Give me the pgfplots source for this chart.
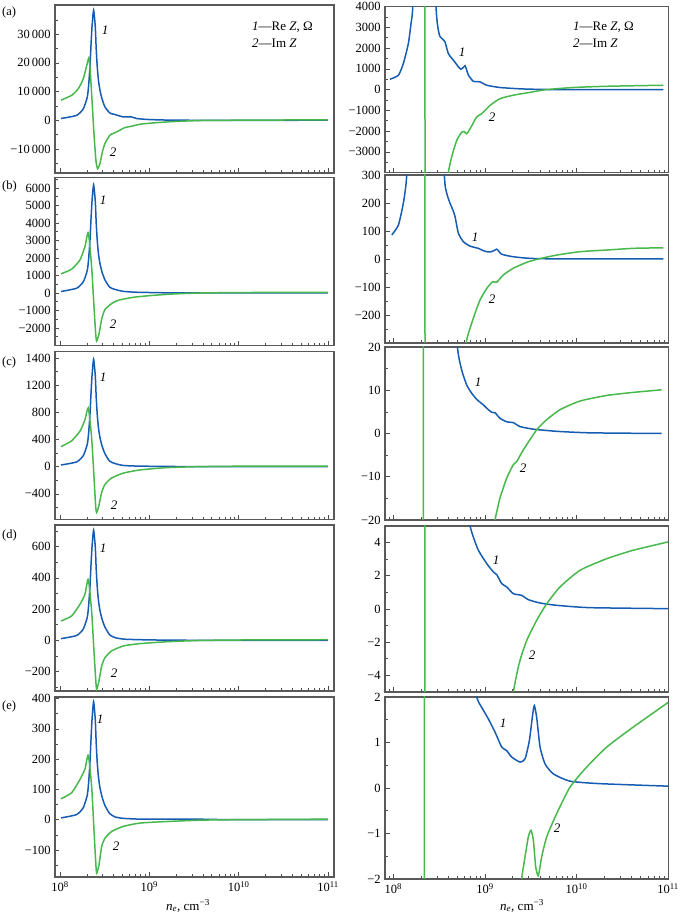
\documentclass[border=0pt]{standalone}
\usepackage{fontspec}
\setmainfont{Liberation Serif}
\usepackage{pgfplots}
\pgfplotsset{compat=1.18}
\definecolor{zblue}{RGB}{22,92,178}
\definecolor{zgreen}{RGB}{72,184,76}
\pgfplotsset{
  zpanel/.style={scale only axis, anchor=south west,
    axis line style={black!65, line width=1.1pt},
    tick style={black!70, line width=0.6pt},
    tick align=inside, xtick pos=left, ytick pos=left,
    major tick length=4.5pt, minor tick length=2.8pt,
    xtick={1e8,1e9,1e10,1e11},
    scaled y ticks=false,
    tick label style={font=\fontsize{12.5}{13}\selectfont},
    xticklabels={},
    every axis plot/.append style={line width=1.5pt, no markers, smooth, tension=0.35},
  },
  zleft/.style={zpanel, xmin=8.79e7, xmax=1.167e11, width=279pt,
    minor xtick={2e8,3e8,4e8,5e8,6e8,7e8,8e8,9e8,2e9,3e9,4e9,5e9,6e9,7e9,8e9,9e9,2e10,3e10,4e10,5e10,6e10,7e10,8e10,9e10}},
  zright/.style={zpanel, xmin=8.11e7, xmax=1.01e11, width=283.5pt,
    minor xtick={9e7,2e8,3e8,4e8,5e8,6e8,7e8,8e8,9e8,2e9,3e9,4e9,5e9,6e9,7e9,8e9,9e9,2e10,3e10,4e10,5e10,6e10,7e10,8e10,9e10}},
  zbottom/.style={xticklabels={10\textsuperscript{8},10\textsuperscript{9},10\textsuperscript{10},10\textsuperscript{11}}},
}
\begin{document}
\fontsize{12.5}{14}\selectfont
\begin{tikzpicture}
\useasboundingbox (0pt,0pt) rectangle (685pt,918pt);
% ---------------- (a) left
\begin{axis}[xmode=log, zleft, at={(55pt,745pt)}, height=168pt, ymin=-18400, ymax=40200,
  ytick={-10000,0,10000,20000,30000}, yticklabels={−10\,000,0,10\,000,20\,000,30\,000},
  minor ytick={-15000,-5000,5000,15000,25000,35000}]
\addplot[zblue] coordinates {(1.026e8,600) (1.535e8,1700) (1.824e8,4000) (2.018e8,8000) (2.089e8,12000) (2.163e8,18600) (2.213e8,25000) (2.280e8,32500) (2.377e8,38400) (2.483e8,32500) (2.541e8,25000) (2.612e8,18600) (2.692e8,14000) (2.799e8,10500) (2.951e8,7500) (3.184e8,4650) (3.622e8,2500) (4.121e8,2000) (5.105e8,1160) (6.324e8,1160) (7.194e8,600) (1.014e9,230) (2.388e9,0) (9.954e10,0)};
\addplot[zgreen] coordinates {(1.026e8,7000) (1.352e8,8700) (1.603e8,11000) (1.824e8,14500) (2.018e8,19800) (2.128e8,21500) (2.259e8,9300) (2.399e8,-4650) (2.523e8,-14000) (2.636e8,-16900) (2.799e8,-15100) (2.985e8,-11000) (3.184e8,-8100) (3.622e8,-5200) (4.295e8,-4100) (5.321e8,-2560) (6.324e8,-2100) (7.834e8,-1400) (1.104e9,-930) (1.845e9,-470) (3.664e9,-100) (8.650e9,0) (9.954e10,150)};
\end{axis}
% ---------------- (a) right
\begin{axis}[xmode=log, zright, at={(385pt,745.4pt)}, height=166pt, ymin=-4000, ymax=4000,
  restrict y to domain*=-44000:44000,
  ytick={-3000,-2000,-1000,0,1000,2000,3000,4000}, yticklabels={−3000,−2000,−1000,0,1000,2000,3000,4000},
  minor ytick={-3500,-2500,-1500,-500,500,1500,2500,3500}]
\addplot[zblue] coordinates {(9.204e7,500) (1.135e8,690) (1.285e8,1250) (1.459e8,2220) (1.560e8,3190) (1.629e8,4000) (1.778e8,9000) (1.995e8,25000) (2.188e8,38000) (2.399e8,25000) (2.630e8,10000) (2.924e8,4000) (3.097e8,2870) (3.236e8,2550) (3.373e8,2470) (3.664e8,2300) (3.981e8,1740) (4.519e8,1420) (5.129e8,1100) (5.445e8,985) (5.754e8,1050) (6.067e8,1150) (6.310e8,950) (6.592e8,700) (7.464e8,400) (8.851e8,370) (1.047e9,210) (1.462e9,100) (2.624e9,30) (6.081e9,0) (8.872e10,0)};
\addplot[zgreen] coordinates {(9.204e7,7000) (1.995e8,20000) (2.188e8,21000) (2.249e8,-17000) (2.630e8,-17000) (3.162e8,-8000) (3.548e8,-5500) (3.981e8,-4000) (4.335e8,-3240) (4.920e8,-2450) (5.572e8,-2050) (5.916e8,-2020) (6.324e8,-2130) (6.871e8,-1890) (8.128e8,-1320) (9.226e8,-1160) (1.138e9,-760) (1.462e9,-435) (2.042e9,-270) (2.858e9,-160) (4.732e9,0) (9.226e9,100) (2.138e10,160) (8.872e10,210)};
\end{axis}
% ---------------- (b) left
\begin{axis}[xmode=log, zleft, at={(55pt,572.5pt)}, height=168pt, ymin=-3000, ymax=6600,
  ytick={-2000,-1000,0,1000,2000,3000,4000,5000,6000}, yticklabels={−2000,−1000,0,1000,2000,3000,4000,5000,6000},
  minor ytick={-2500,-1500,-500,500,1500,2500,3500,4500,5500,6500}]
\addplot[zblue] coordinates {(1.026e8,86) (1.535e8,272) (1.824e8,643) (2.018e8,1286) (2.089e8,1916) (2.163e8,2992) (2.213e8,4018) (2.280e8,5230) (2.377e8,6182) (2.483e8,5230) (2.541e8,4018) (2.612e8,2992) (2.692e8,2256) (2.799e8,1688) (2.951e8,1205) (3.184e8,748) (3.606e8,330) (4.159e8,199) (5.129e8,92) (6.871e8,46) (1.047e9,26) (2.042e9,8) (9.954e10,0)};
\addplot[zgreen] coordinates {(1.026e8,1096) (1.349e8,1361) (1.673e8,1890) (1.901e8,2646) (2.073e8,3460) (2.258e8,1512) (2.399e8,-756) (2.503e8,-2268) (2.569e8,-2741) (2.728e8,-2363) (2.922e8,-1512) (3.184e8,-945) (3.779e8,-605) (4.485e8,-416) (6.597e8,-246) (1.013e9,-151) (1.846e9,-57) (3.666e9,0) (1.091e10,26) (9.954e10,40)};
\end{axis}
% ---------------- (b) right
\begin{axis}[xmode=log, zright, at={(385pt,575pt)}, height=168pt, ymin=-300, ymax=300,
  restrict y to domain*=-3300:3300,
  ytick={-200,-100,0,100,200,300}, yticklabels={−200,−100,0,100,200,300},
  minor ytick={-250,-150,-50,50,150,250}]
\addplot[zblue] coordinates {(9.616e7,86) (1.135e8,121) (1.285e8,199) (1.400e8,300) (1.585e8,700) (1.995e8,3500) (2.188e8,6200) (2.512e8,3500) (3.162e8,800) (3.606e8,300) (3.828e8,235) (4.159e8,199) (4.467e8,175) (4.721e8,151) (5.129e8,92) (5.808e8,62) (6.871e8,46) (8.472e8,38) (9.550e8,30) (1.047e9,26) (1.148e9,25) (1.259e9,30) (1.346e9,35) (1.413e9,28) (1.524e9,17) (2.042e9,8) (3.999e9,1) (8.872e10,0)};
\addplot[zgreen] coordinates {(9.616e7,1128) (1.995e8,3300) (2.188e8,3460) (2.249e8,-2720) (2.630e8,-2720) (3.548e8,-900) (5.012e8,-500) (6.223e8,-300) (6.871e8,-248) (7.798e8,-194) (8.851e8,-146) (1.047e9,-105) (1.216e9,-81) (1.346e9,-83) (1.589e9,-57) (2.042e9,-33) (2.858e9,-12) (3.828e9,0) (6.081e9,14) (1.091e10,26) (2.138e10,32) (4.169e10,38) (8.872e10,40)};
\end{axis}
% ---------------- (c) left
\begin{axis}[xmode=log, zleft, at={(55pt,398.5pt)}, height=168pt, ymin=-778, ymax=1697,
  ytick={-400,0,400,800,1200,1600}, yticklabels={−400,0,400,800,1200,1400},
  minor ytick={-600,-200,200,600,1000,1400}]
\addplot[zblue] coordinates {(1.026e8,25) (1.535e8,70) (1.824e8,164) (2.018e8,329) (2.089e8,490) (2.163e8,765) (2.213e8,1027) (2.280e8,1337) (2.377e8,1580) (2.483e8,1337) (2.541e8,1027) (2.612e8,765) (2.692e8,577) (2.799e8,431) (2.951e8,308) (3.184e8,191) (3.606e8,80) (4.159e8,45) (5.0e8,20) (6.324e8,11) (1.089e9,5.5) (2.042e9,2.5) (4.0e9,0.8) (9.954e10,0)};
\addplot[zgreen] coordinates {(1.026e8,295) (1.349e8,381) (1.673e8,524) (1.901e8,690) (2.073e8,866) (2.258e8,428) (2.399e8,-143) (2.503e8,-571) (2.569e8,-676) (2.728e8,-571) (2.922e8,-381) (3.184e8,-262) (3.779e8,-167) (5.101e8,-95) (7.834e8,-48) (1.555e9,-14) (3.673e9,0.8) (1.091e10,7.5) (9.954e10,10)};
\end{axis}
% ---------------- (c) right
\begin{axis}[xmode=log, zright, at={(385pt,398pt)}, height=173pt, ymin=-20, ymax=20,
  restrict y to domain*=-220:220,
  ytick={-20,-10,0,10,20}, yticklabels={−20,−10,0,10,20},
  minor ytick={-15,-5,5,15}]
\addplot[zblue] coordinates {(9.616e7,25) (1.585e8,150) (2.188e8,1580) (3.162e8,150) (4.169e8,40) (5.000e8,20) (5.572e8,14.7) (6.324e8,11.2) (7.178e8,9.3) (8.128e8,7.9) (9.616e8,6.6) (1.089e9,5.5) (1.189e9,4.9) (1.288e9,4.8) (1.462e9,3.5) (1.730e9,2.7) (2.042e9,2.5) (2.415e9,1.6) (3.373e9,1.0) (6.081e9,0.5) (1.403e10,0.15) (8.511e10,0)};
\addplot[zgreen] coordinates {(9.616e7,286) (1.995e8,850) (2.104e8,876) (2.163e8,-690) (2.630e8,-689) (3.981e8,-200) (7.943e8,-57) (1.122e9,-28) (1.288e9,-20) (1.462e9,-14.9) (1.730e9,-10.3) (2.042e9,-7.2) (2.223e9,-6.5) (2.624e9,-3.8) (3.673e9,0.85) (4.732e9,3.2) (6.607e9,5.5) (1.091e10,7.5) (2.138e10,8.8) (4.169e10,9.5) (8.511e10,10.1)};
\end{axis}
% ---------------- (d) left
\begin{axis}[xmode=log, zleft, at={(55pt,227pt)}, height=166pt, ymin=-324, ymax=738,
  ytick={-200,0,200,400,600}, yticklabels={−200,0,200,400,600},
  minor ytick={-300,-100,100,300,500,700}]
\addplot[zblue] coordinates {(1.026e8,11) (1.535e8,31) (1.824e8,73) (2.018e8,147) (2.089e8,219) (2.163e8,341) (2.213e8,458) (2.280e8,596) (2.377e8,705) (2.483e8,596) (2.541e8,458) (2.612e8,341) (2.692e8,257) (2.799e8,192) (2.951e8,137) (3.184e8,85) (3.606e8,35) (4.159e8,17) (5.129e8,8) (6.871e8,5) (1.047e9,2.7) (2.042e9,0.9) (6.081e9,0.2) (9.954e10,0)};
\addplot[zgreen] coordinates {(1.026e8,124) (1.349e8,156) (1.673e8,231) (1.901e8,295) (2.073e8,391) (2.258e8,188) (2.399e8,-68) (2.503e8,-240) (2.569e8,-314) (2.728e8,-261) (2.922e8,-165) (3.184e8,-111) (3.779e8,-68) (5.101e8,-36) (7.834e8,-21) (1.555e9,-9) (3.673e9,-0.7) (1.091e10,2.3) (9.954e10,4)};
\end{axis}
% ---------------- (d) right
\begin{axis}[xmode=log, zright, at={(385pt,226pt)}, height=166pt, ymin=-5, ymax=5,
  restrict y to domain*=-55:55,
  ytick={-4,-2,0,2,4}, yticklabels={−4,−2,0,2,4},
  minor ytick={-3,-1,1,3}]
\addplot[zblue] coordinates {(9.616e7,11) (2.188e8,705) (3.981e8,20) (5.623e8,7) (6.871e8,5) (7.464e8,4.34) (8.472e8,3.54) (1.047e9,2.73) (1.236e9,2.23) (1.346e9,2.07) (1.524e9,1.53) (1.730e9,1.33) (2.042e9,0.92) (2.518e9,0.82) (2.979e9,0.56) (3.999e9,0.36) (6.081e9,0.22) (1.403e10,0.08) (1e11,0.02)};
\addplot[zgreen] coordinates {(9.616e7,127) (1.995e8,380) (2.188e8,391) (2.249e8,-307) (2.630e8,-307) (5.012e8,-45) (1e9,-15) (2.042e9,-5) (2.415e9,-3.1) (2.858e9,-1.9) (3.673e9,-0.68) (4.732e9,0.32) (6.607e9,1.33) (1.091e10,2.33) (2.138e10,3.03) (4.169e10,3.54) (1e11,4.04)};
\end{axis}
% ---------------- (e) left
\begin{axis}[xmode=log, zleft, zbottom, at={(55pt,41pt)}, height=180pt, ymin=-189, ymax=405,
  ytick={-100,0,100,200,300,400}, yticklabels={−100,0,100,200,300,400},
  minor ytick={-150,-50,50,150,250,350}]
\addplot[zblue] coordinates {(1.026e8,6) (1.535e8,17) (1.824e8,40) (2.018e8,81) (2.089e8,121) (2.163e8,188) (2.213e8,253) (2.280e8,329) (2.377e8,389) (2.483e8,329) (2.541e8,253) (2.612e8,188) (2.692e8,142) (2.799e8,106) (2.951e8,76) (3.184e8,47) (3.606e8,20) (4.159e8,9) (5.129e8,4.5) (8.128e8,2) (3.467e9,1.8) (8.492e9,0.15) (9.954e10,0)};
\addplot[zgreen] coordinates {(1.026e8,69) (1.349e8,89) (1.673e8,133) (1.901e8,167) (2.073e8,213) (2.258e8,111) (2.399e8,-33) (2.503e8,-133) (2.569e8,-176) (2.728e8,-150) (2.922e8,-89) (3.184e8,-61) (3.779e8,-39) (5.101e8,-22) (7.834e8,-11) (1.555e9,-6) (3.673e9,-1.5) (8.492e9,0) (9.954e10,1.9)};
\end{axis}
% ---------------- (e) right
\begin{axis}[xmode=log, zright, zbottom, at={(385pt,39pt)}, height=182pt, ymin=-2, ymax=2,
  restrict y to domain*=-22:22,
  ytick={-2,-1,0,1,2}, yticklabels={−2,−1,0,1,2},
  minor ytick={-1.5,-0.5,0.5,1.5}]
\addplot[zblue] coordinates {(9.616e7,6) (2.188e8,389) (3.981e8,12) (6.310e8,3) (8.128e8,2) (9.226e8,1.77) (1.089e9,1.52) (1.288e9,1.23) (1.524e9,0.90) (1.730e9,0.82) (1.959e9,0.68) (2.415e9,0.57) (2.742e9,0.64) (3.055e9,1.04) (3.327e9,1.63) (3.467e9,1.81) (3.673e9,1.55) (3.999e9,0.90) (4.529e9,0.53) (5.585e9,0.31) (8.492e9,0.15) (1.807e10,0.095) (1e11,0.04)};
\addplot[zgreen] coordinates {(9.616e7,69) (1.995e8,205) (2.163e8,213) (2.223e8,-176) (2.630e8,-170) (6.310e8,-20) (1.585e9,-5) (2.239e9,-3) (2.518e9,-2) (2.742e9,-1.51) (2.979e9,-1.07) (3.184e9,-0.93) (3.381e9,-1.15) (3.581e9,-1.73) (3.828e9,-1.93) (4.169e9,-1.51) (4.732e9,-1.07) (6.081e9,-0.56) (8.492e9,0.02) (1.291e10,0.46) (2.138e10,0.90) (4.169e10,1.34) (1e11,1.88)};
\end{axis}
% ---------------- annotations
\tikzset{cl/.style={font=\fontsize{13}{14}\selectfont\itshape, inner sep=0pt}}
\node[cl] at (105pt,888pt) {1};
\node[cl] at (113pt,766pt) {2};
\node[cl] at (462pt,866pt) {1};
\node[cl] at (492pt,801pt) {2};
\node[cl] at (103pt,718pt) {1};
\node[cl] at (113pt,594pt) {2};
\node[cl] at (475pt,681pt) {1};
\node[cl] at (492pt,619pt) {2};
\node[cl] at (103pt,541pt) {1};
\node[cl] at (114pt,413pt) {2};
\node[cl] at (478pt,536pt) {1};
\node[cl] at (523pt,450pt) {2};
\node[cl] at (103pt,370pt) {1};
\node[cl] at (114pt,245pt) {2};
\node[cl] at (496pt,358pt) {1};
\node[cl] at (532pt,263pt) {2};
\node[cl] at (100pt,199pt) {1};
\node[cl] at (116pt,72pt) {2};
\node[cl] at (503pt,195pt) {1};
\node[cl] at (557pt,90pt) {2};
\tikzset{lg/.style={anchor=west, inner sep=0pt, font=\fontsize{13}{14}\selectfont}}
\node[lg] at (252pt,891pt) {\textit{1}—Re \textit{Z}, Ω};
\node[lg] at (252pt,875pt) {\textit{2}—Im \textit{Z}};
\node[lg] at (573pt,891pt) {\textit{1}—Re \textit{Z}, Ω};
\node[lg] at (573pt,875pt) {\textit{2}—Im \textit{Z}};
\tikzset{pl/.style={anchor=west, inner sep=0pt, font=\fontsize{12.5}{14}\selectfont}}
\node[pl] at (2pt,905pt) {(a)};
\node[pl] at (2pt,731pt) {(b)};
\node[pl] at (2pt,555pt) {(c)};
\node[pl] at (2pt,383pt) {(d)};
\node[pl] at (2pt,212pt) {(e)};
\node[font=\fontsize{13}{14}\selectfont, inner sep=0pt] at (188pt,12pt) {\textit{n}\textsubscript{\textit{e}}, cm\textsuperscript{−3}};
\node[font=\fontsize{13}{14}\selectfont, inner sep=0pt] at (522pt,12pt) {\textit{n}\textsubscript{\textit{e}}, cm\textsuperscript{−3}};
\end{tikzpicture}
\end{document}
